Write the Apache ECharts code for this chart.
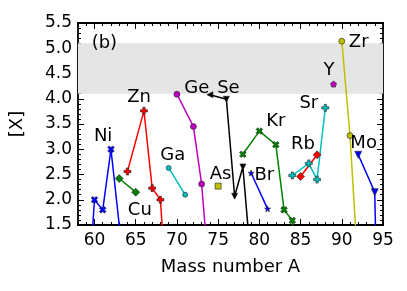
<!DOCTYPE html>
<html><head><meta charset="utf-8">
<script src="https://cdn.jsdelivr.net/npm/echarts@6/dist/echarts.min.js"></script>
<style>html,body{margin:0;padding:0;background:#fff}#c{width:407px;height:291px}</style>
</head><body><div id="c"></div>
<script>
// ---- data (mass number A, value) ----
const niA = [58, 60, 61, 62, 64],        niV = [-3.0, 2.0, 1.8, 3.0, 0.0];
const cuA = [63, 65],                    cuV = [2.42, 2.15];
const znA = [64, 66, 67, 68, 70],        znV = [2.56, 3.76, 2.23, 2.0, -3.0];
const gaA = [69, 71],                    gaV = [2.63, 2.1];
const geA = [70, 72, 73, 74],            geV = [4.09, 3.45, 2.31, 0.3];
const asA = [75],                        asV = [2.27];
const seA = [74, 76, 77, 78, 80],        seV = [4.08, 3.99, 2.07, 2.65, -1.2];
const brA = [79, 81],                    brV = [2.53, 1.82];
const krA = [78, 80, 82, 83, 84, 86],    krV = [2.9, 3.36, 3.09, 1.8, 1.59, -2.8];
const rbA = [85, 87],                    rbV = [2.46, 2.89];
const srA = [84, 86, 87, 88],            srV = [2.48, 2.72, 2.4, 3.82];
const yA  = [89],                        yV  = [4.29];
const zrA = [90, 91, 92],                zrV = [5.14, 3.27, 0.55];
const moA = [92, 94, 95],                moV = [2.89, 2.15, -6.0];
const band = [4.1, 5.1];
// annotation labels [A, value, text]
const labelNames = ['Ni','Cu','Zn','Ga','Ge','Se','As','Kr','Br','Rb','Sr','Y','Zr','Mo','(b)'];
const labelA     = [61.05, 65.5, 65.4, 69.5, 72.4, 76.25, 75.3, 82.0, 80.6, 85.3, 86.0, 88.45, 92.05, 92.65, 61.2];
const labelV     = [3.26, 1.79, 4.03, 2.88, 4.21, 4.21, 2.5, 3.55, 2.48, 3.1, 3.91, 4.56, 5.12, 3.12, 5.1];
// axis ticks
const xMin = 58, xMax = 95;
const xMajor = [60, 65, 70, 75, 80, 85, 90, 95];
const xMinor = []; for (let a = xMin; a <= xMax; a++) xMinor.push(a);
const yMin = 1.5, yMax = 5.5, yStep = 0.5;

const PLUS = 'path://M-1,-3H1V-1H3V1H1V3H-1V1H-3V-1H-1Z';
const STAR = 'path://M0,-10L2.35,-3.24L9.51,-3.09L3.8,1.24L5.88,8.09L0,4L-5.88,8.09L-3.8,1.24L-9.51,-3.09L-2.35,-3.24Z';
const PENT = 'path://M0,-10L9.51,-3.09L5.88,8.09L-5.88,8.09L-9.51,-3.09Z';

function pts(A, V) { return A.map((a, i) => [a, V[i]]); }
function ser(name, A, V, color, symbol, size, rot) {
  return {
    name, type: 'line', data: pts(A, V), xAxisIndex: 0, yAxisIndex: 0,
    symbol, symbolSize: size, symbolRotate: rot || 0, showAllSymbol: true,
    lineStyle: { color, width: 1.5 },
    itemStyle: { color, borderColor: '#222', borderWidth: 0.6 },
    clip: true, animation: false, z: 3
  };
}

const series = [
  { type: 'line', data: [], xAxisIndex: 0, yAxisIndex: 0, z: 1,
    markArea: { silent: true, itemStyle: { color: '#e5e5e5' }, data: [[{ yAxis: band[0] }, { yAxis: band[1] }]] } },
  ser('Ni', niA, niV, '#0000ff', PLUS, 7, 45),
  ser('Cu', cuA, cuV, '#008000', 'diamond', 8),
  ser('Zn', znA, znV, '#ff0000', PLUS, 7),
  ser('Ga', gaA, gaV, '#00bfbf', 'circle', 5),
  ser('Ge', geA, geV, '#bf00bf', 'circle', 6),
  ser('As', asA, asV, '#bfbf00', 'rect', 6),
  ser('Se', seA, seV, '#000000', 'triangle', 6, 180),
  ser('Br', brA, brV, '#0000ff', STAR, 6),
  ser('Kr', krA, krV, '#008000', PLUS, 7, 45),
  ser('Rb', rbA, rbV, '#ff0000', 'diamond', 8),
  ser('Sr', srA, srV, '#00bfbf', PLUS, 7),
  ser('Y', yA, yV, '#bf00bf', PENT, 6),
  ser('Zr', zrA, zrV, '#bfbf00', 'circle', 6),
  ser('Mo', moA, moV, '#0000ff', 'triangle', 7, 180),
  { type: 'scatter', xAxisIndex: 0, yAxisIndex: 0, symbolSize: 1, silent: true, z: 5,
    itemStyle: { opacity: 0 },
    data: labelNames.map((n, i) => [labelA[i], labelV[i], n]),
    label: { show: true, position: 'inside', formatter: p => p.data[2], color: '#000', opacity: 1,
             textBorderWidth: 0, fontSize: 18, fontFamily: 'DejaVu Sans' } }
];
series[7].data[0] = { value: [seA[0], seV[0]], symbolRotate: 90 };

const axLine = { show: true, onZero: false, lineStyle: { color: '#000', width: 1.8 } };
function xAx(pos, major, showLabel) {
  return {
    type: 'value', min: xMin, max: xMax, position: pos, offset: 0,
    axisLine: axLine,
    axisTick: { show: true, inside: true, length: major ? 6 : 3, customValues: major ? xMajor : xMinor, lineStyle: { color: '#000', width: 1 } },
    axisLabel: { show: showLabel, customValues: xMajor, color: '#000', fontSize: 17, fontFamily: 'DejaVu Sans', margin: 7 },
    splitLine: { show: false },
    name: showLabel ? 'Mass number A' : '', nameLocation: 'middle', nameGap: 33,
    nameTextStyle: { color: '#000', fontSize: 18, fontFamily: 'DejaVu Sans' }
  };
}
function yAx(pos, showLabel) {
  return {
    type: 'value', min: yMin, max: yMax, interval: yStep, position: pos, offset: 0,
    axisLine: axLine,
    axisTick: { show: true, inside: true, length: 6, lineStyle: { color: '#000', width: 1 } },
    minorTick: { show: true, splitNumber: 5, length: 3, lineStyle: { color: '#000', width: 1 } },
    axisLabel: { show: showLabel, color: '#000', fontSize: 17, fontFamily: 'DejaVu Sans', formatter: v => v.toFixed(1), margin: 6 },
    splitLine: { show: false },
    name: showLabel ? '[X]' : '', nameLocation: 'middle', nameGap: 52, nameRotate: 90,
    nameTextStyle: { color: '#000', fontSize: 18, fontFamily: 'DejaVu Sans' }
  };
}

const chart = echarts.init(document.getElementById('c'), null, { renderer: 'canvas' });
chart.setOption({
  animation: false,
  textStyle: { fontFamily: 'DejaVu Sans' },
  grid: { left: 77, right: 24, top: 23, bottom: 66, containLabel: false },
  xAxis: [xAx('bottom', false, false), xAx('bottom', true, true), xAx('top', false, false), xAx('top', true, false)],
  yAxis: [yAx('left', true), yAx('right', false)],
  series
});
</script></body></html>
